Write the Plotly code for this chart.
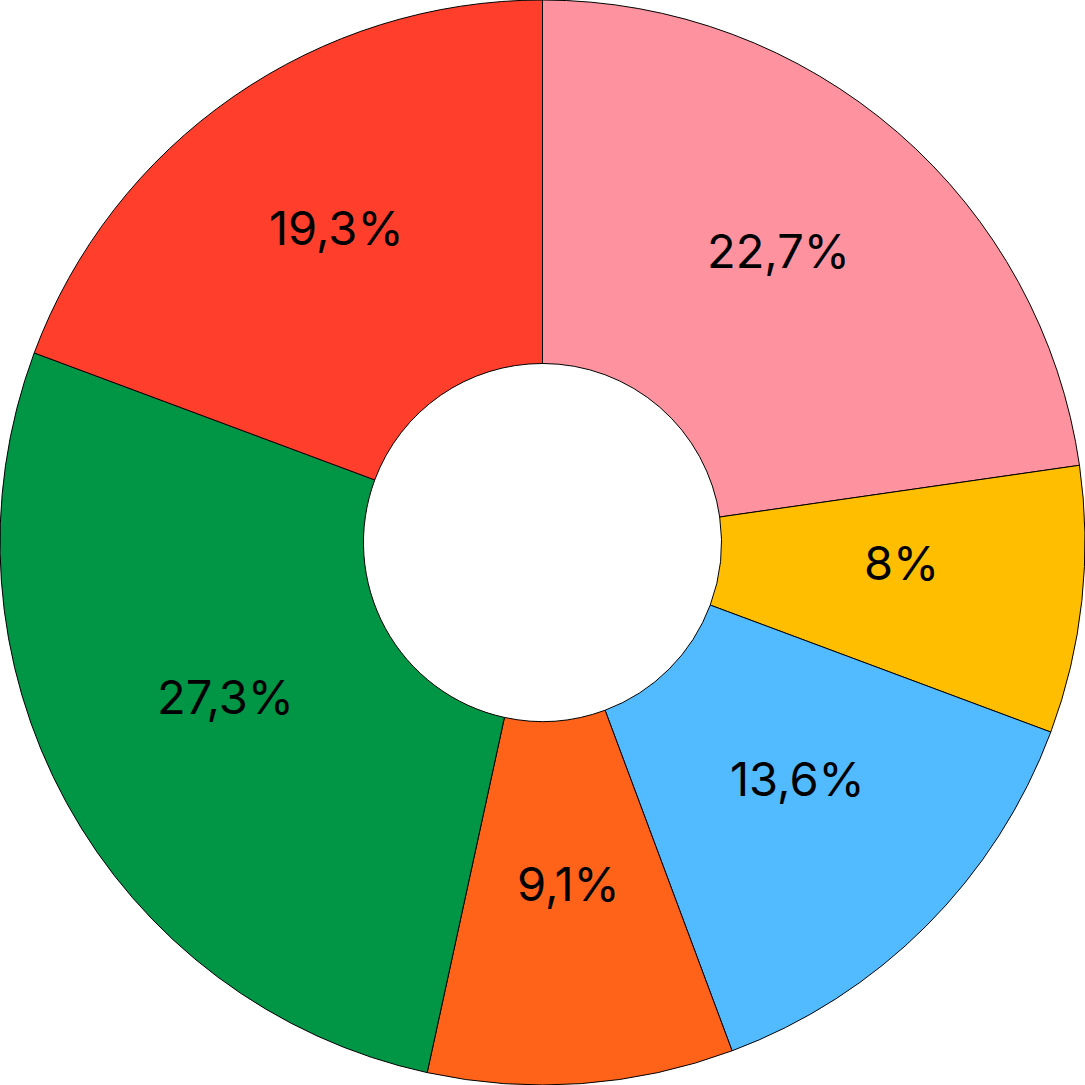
import math
import plotly.graph_objects as go

labels = ["A", "B", "C", "D", "E", "F"]
values = [20, 7, 12, 8, 24, 17]
colors = ["#FF929F", "#FFBF00", "#52BAFF", "#FF631A", "#009646", "#FF3F2B"]

HOLE = 0.33

fig = go.Figure(go.Pie(
    labels=labels,
    values=values,
    sort=False,
    direction="clockwise",
    rotation=0,
    hole=HOLE,
    marker=dict(colors=colors, line=dict(color="#000000", width=1)),
    textinfo="none",
    showlegend=False,
    hoverinfo="label+percent",
))

# labels placed at the middle of the ring, at each slice's mid angle
total = sum(values)
cum = 0
r_mid = 0.5 * (1 + HOLE) / 2  # in paper fraction (outer radius = 0.5)
for v in values:
    mid = (cum + v / 2) / total * 2 * math.pi
    cum += v
    pct = round(v / total * 100, 1)
    txt = (f"{pct:.1f}".rstrip("0").rstrip(".")).replace(".", ",") + "%"
    fig.add_annotation(
        x=0.5 + r_mid * math.sin(mid),
        y=0.5 + r_mid * math.cos(mid),
        xref="paper", yref="paper",
        text=txt,
        showarrow=False,
        xanchor="center", yanchor="middle",
        yshift=19,
        font=dict(family="Inter", size=47, color="#000000"),
    )

fig.update_layout(
    width=1085,
    height=1085,
    margin=dict(l=0, r=0, t=0, b=0),
    paper_bgcolor="#FFFFFF",
    plot_bgcolor="#FFFFFF",
)

fig.write_html(
    "out.html",
    config={"displayModeBar": False},
    post_script="document.body.style.margin='0';document.body.style.overflow='hidden';",
)
